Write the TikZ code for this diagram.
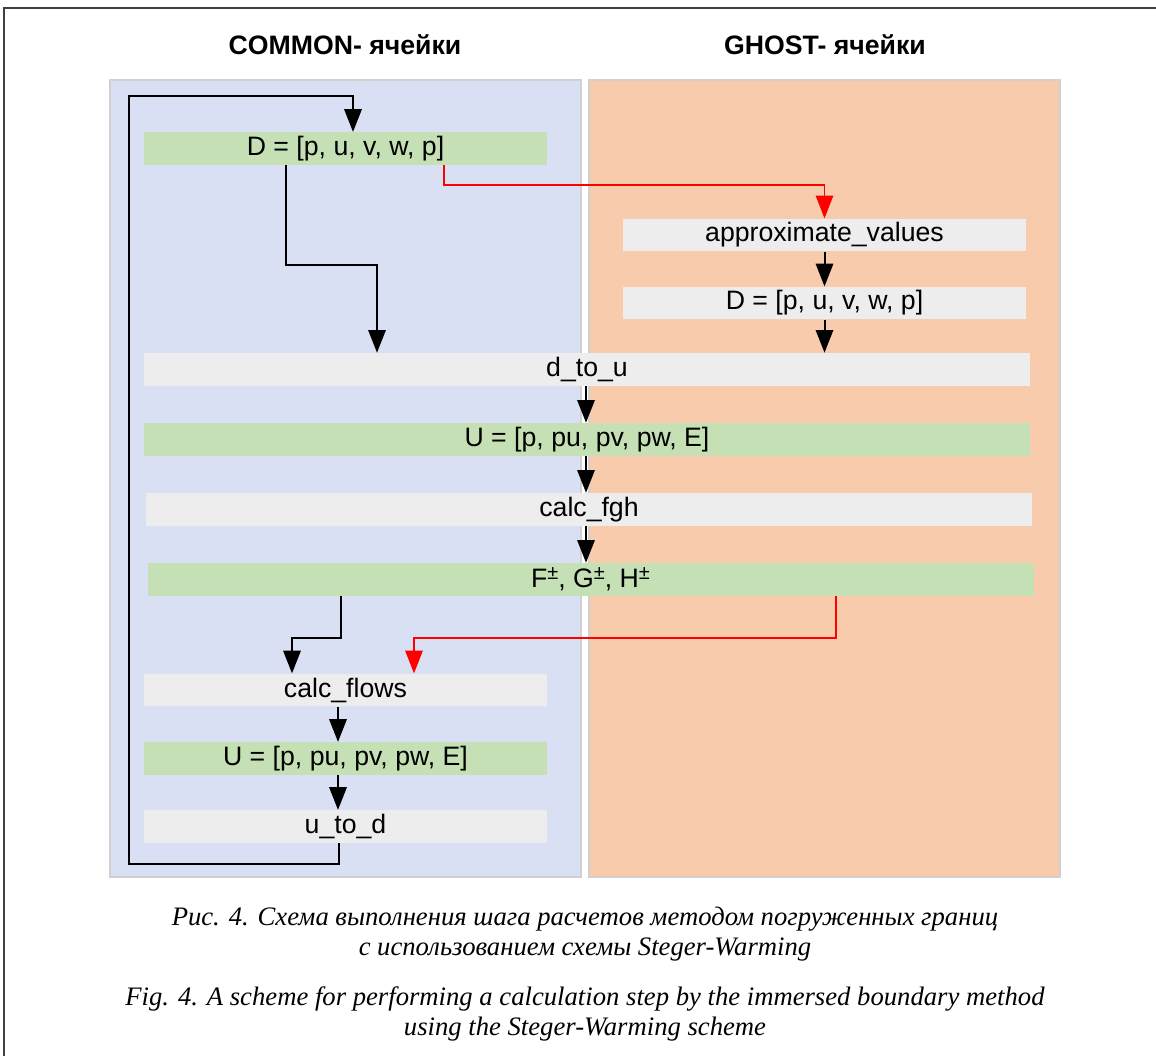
\documentclass[tikz,border=0pt]{standalone}
\usepackage{fontspec}
\setmainfont{Liberation Serif}
\newfontfamily\boxfont{Liberation Sans}
\usetikzlibrary{arrows.meta,calc}
\definecolor{panelblue}{HTML}{DAE0F3}
\definecolor{panelorange}{HTML}{F8CBAD}
\definecolor{boxgreen}{HTML}{C5E0B4}
\definecolor{boxgray}{HTML}{EDEDED}
\definecolor{paneledge}{HTML}{D0D0D0}
\definecolor{framegray}{HTML}{404040}
\newcommand{\pmsup}{\raisebox{0.55ex}{\fontsize{15}{15}\selectfont ±}}
\tikzset{
  panel/.style={draw=paneledge, line width=0.8pt, inner sep=0pt, minimum width=353.25pt, minimum height=597.75pt},
  smallbox/.style={inner sep=0pt, minimum width=302.25pt, minimum height=24.5pt, font=\boxfont\fontsize{20}{23}\selectfont},
  widebox/.style={inner sep=0pt, minimum width=664.5pt, minimum height=24.75pt, font=\boxfont\fontsize{20}{23}\selectfont},
  green/.style={fill=boxgreen},
  grey/.style={fill=boxgray},
  title/.style={font=\boxfont\bfseries\fontsize{20}{24}\selectfont},
  caption/.style={font=\itshape\fontsize{20}{22.5}\selectfont, align=center},
  arr/.style={line width=1.5pt, -{Triangle[length=17pt,width=13pt]}},
  redarr/.style={draw=red, line width=1.1pt, -{Triangle[length=17pt,width=13pt]}, red},
}
\begin{document}
\begin{tikzpicture}[x=0.75pt,y=-0.75pt]
\useasboundingbox (0,0) rectangle (1156,1056);
% frame
\draw[framegray, line width=1.5pt] (1156,8) -- (4,8) -- (4,1056);
% titles
\node[title] (t1) at (345,45) {COMMON- ячейки};
\node[title] (t2) at (825,45) {GHOST- ячейки};
% panels
\node[panel, fill=panelblue] (pb) at (345.5,478.5) {};
\node[panel, fill=panelorange] (po) at (824.5,478.5) {};
% boxes
\node[smallbox, green] (D1) at (345.5,148.5) {D = [p, u, v, w, p]};
\node[smallbox, grey] (approx) at (824.5,235) {approximate\_values};
\node[smallbox, grey] (D2) at (824.5,303) {D = [p, u, v, w, p]};
\node[widebox, grey] (dtou) at (587,369.5) {d\_to\_u};
\node[widebox, green] (U) at (587,439.5) {U = [p, pu, pv, pw, E]};
\node[widebox, grey] (fgh) at (589,509.5) {calc\_fgh};
\node[widebox, green] (F) at (590.5,579.5) {F\pmsup, G\pmsup, H\pmsup};
\node[smallbox, grey] (flows) at (345.5,690) {calc\_flows};
\node[smallbox, green] (U2) at (345.5,758.5) {U = [p, pu, pv, pw, E]};
\node[smallbox, grey] (utod) at (345.5,826.5) {u\_to\_d};
% helper coordinates
\coordinate (l1) at (339,864);
\coordinate (l2) at (129,864);
\coordinate (l3) at (129,96);
\coordinate (l4) at (353,96);
\coordinate (k1) at (286,265);
\coordinate (k2) at (377,265);
\coordinate (r1) at (444,185);
\coordinate (m1) at (341,638);
\coordinate (m2) at (292,638);
\coordinate (n1) at (836,638);
\coordinate (n2) at (414,638);
\coordinate (c1) at (586,0);
\coordinate (c2) at (338,0);
% connectors
\draw[arr] (utod.south -| l1) -- (l1) -- (l2) -- (l3) -- (l4) -- (l4 |- D1.north);
\draw[arr] (D1.south -| k1) -- (k1) -- (k2) -- (k2 |- dtou.north);
\draw[redarr] (D1.south -| r1) -- (r1) -| (approx.north);
\draw[arr] (approx.south) -- (D2.north);
\draw[arr] (D2.south) -- (D2.south |- dtou.north);
\draw[arr] (dtou.south -| c1) -- (U.north -| c1);
\draw[arr] (U.south -| c1) -- (fgh.north -| c1);
\draw[arr] (fgh.south -| c1) -- (F.north -| c1);
\draw[arr] (F.south -| m1) -- (m1) -- (m2) -- (m2 |- flows.north);
\draw[redarr] (F.south -| n1) -- (n1) -- (n2) -- (n2 |- flows.north);
\draw[arr] (flows.south -| c2) -- (U2.north -| c2);
\draw[arr] (U2.south -| c2) -- (utod.north -| c2);
% captions
\node[caption] (cap1) at (585,934) {Рис. 4. Схема выполнения шага расчетов методом погруженных границ\\с использованием схемы Steger-Warming};
\node[caption] (cap2) at (585,1014) {Fig. 4. A scheme for performing a calculation step by the immersed boundary method\\using the Steger-Warming scheme};
\end{tikzpicture}
\end{document}
